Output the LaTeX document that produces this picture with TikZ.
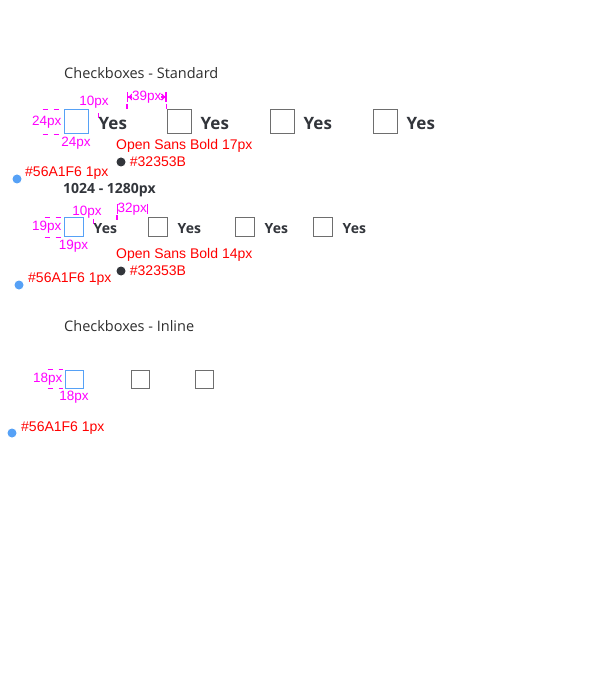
\documentclass[tikz,border=0pt]{standalone}
\usepackage{fontspec}
\setmainfont{Open Sans}
\newfontfamily\arialfont{Liberation Sans}
\usetikzlibrary{positioning, arrows.meta}
\definecolor{cbblue}{HTML}{56A1F6}
\definecolor{cbdark}{HTML}{32353B}
\definecolor{cbgray}{HTML}{6E6E6E}
\definecolor{cbhead}{HTML}{2E2E2E}
\definecolor{cbmag}{HTML}{FF00FF}
\definecolor{cbred}{HTML}{FF0000}

\tikzset{
  chk/.style={draw=cbgray, line width=1pt, inner sep=0pt, minimum size=#1},
  chkon/.style={chk=#1, draw=cbblue},
  yes/.style={inner sep=0pt, text=cbdark, font=\bfseries\fontsize{#1}{#1}\selectfont},
  head/.style={inner sep=0pt, anchor=west, text=cbhead, font=\fontsize{14.5}{16}\selectfont},
  dimtxt/.style={inner sep=0pt, text=cbmag, font=\arialfont\fontsize{13.5}{15}\selectfont},
  dimln/.style={cbmag, line width=1.5pt, dash pattern=on 5pt off 6pt},
  note/.style={inner sep=0pt, anchor=west, text=cbred, font=\arialfont\fontsize{14}{16}\selectfont},
  swatch/.style={circle, fill=#1, inner sep=0pt, minimum size=9pt},
}

\begin{document}
\begin{tikzpicture}[x=1pt, y=-1pt]
        \useasboundingbox (0,0) rectangle (600,700);
        % standard, 17px
        \node[head] (hstd) at (64,73) {Checkboxes - Standard};
        \node[chkon=24pt] (a1) at (76,122) {};
        \node[chk=24pt] (a2) at (179,122) {};
        \node[chk=24pt] (a3) at (282,122) {};
        \node[chk=24pt] (a4) at (385,122) {};
        \node[yes=17, right=10pt of a1, yshift=-2pt] (ya1) {Yes};
        \node[yes=17, right=9pt of a2, yshift=-2pt] (ya2) {Yes};
        \node[yes=17, right=9pt of a3, yshift=-2pt] (ya3) {Yes};
        \node[yes=17, right=9pt of a4, yshift=-2pt] (ya4) {Yes};
        \draw[dimln] ([xshift=-21pt]a1.north west) -- ([xshift=-2pt]a1.north west);
        \draw[dimln] ([xshift=-21pt]a1.south west) -- ([xshift=-2pt]a1.south west);
        \node[dimtxt, left=2pt of a1] (wa1) {24px};
        \node[dimtxt, below=2pt of a1] (ha1) {24px};
        \node[dimtxt] (ga1) at (94,102) {10px};
        \draw[cbmag, line width=1.2pt] (ya1.north west) -- ++(0,-5);
        \draw[cbmag, line width=1.2pt, {Bar[width=10pt]Straight Barb[length=3pt]}-{Straight Barb[length=3pt]Bar[width=10pt]}]
            (ya1.east |- 0,97) -- (a2.west |- 0,97) node[dimtxt, midway, fill=white] (sa1) {39px};
        \draw[dimln] (ya1.east |- 0,104) -- (ya1.east |- a1.north);
        \draw[dimln] (a2.west |- 0,104) -- (a2.north west);
        \node[note] (fa) at (116,146) {Open Sans Bold 17px};
        \node[swatch=cbdark] (ka) at (121,162) {};
        \node[note, right=4pt of ka] {\#32353B};
        \node[swatch=cbblue] (ba) at (17,179) {};
        \node[note] at (25,173) {\#56A1F6 1px};
        % standard, 14px
        \node[head, text=cbdark, font=\bfseries\fontsize{14}{16}\selectfont] (hmid) at (63,190) {1024 - 1280px};
        \node[chkon=19pt] (b1) at (73.5,227.5) {};
        \node[chk=19pt] (b2) at (157.5,227.5) {};
        \node[chk=19pt] (b3) at (244.5,227.5) {};
        \node[chk=19pt] (b4) at (322.5,227.5) {};
        \node[yes=14, right=10pt of b1, yshift=-1.5pt] (yb1) {Yes};
        \node[yes=14, right=10pt of b2, yshift=-1.5pt] (yb2) {Yes};
        \node[yes=14, right=10pt of b3, yshift=-1.5pt] (yb3) {Yes};
        \node[yes=14, right=10pt of b4, yshift=-1.5pt] (yb4) {Yes};
        \draw[dimln] ([xshift=-19pt]b1.north west) -- ([xshift=-2pt]b1.north west);
        \draw[dimln] ([xshift=-19pt]b1.south west) -- ([xshift=-2pt]b1.south west);
        \node[dimtxt, left=2pt of b1] (wb1) {19px};
        \node[dimtxt, below=2pt of b1] (hb1) {19px};
        \node[dimtxt] (gb1) at (87,212) {10px};
        \draw[cbmag, line width=1.2pt] (yb1.north west) -- ++(0,-5);
        \draw[cbmag, line width=1.2pt, {Bar[width=10pt]}-{Bar[width=10pt]}]
            (yb1.east |- 0,209) -- (b2.west |- 0,209) node[dimtxt, midway, fill=white] (sb1) {32px};
        \draw[dimln] (yb1.east |- 0,215) -- (yb1.east |- 0,225);
        \node[note] (fb) at (116,255) {Open Sans Bold 14px};
        \node[swatch=cbdark] (kb) at (121,271) {};
        \node[note, right=4pt of kb] {\#32353B};
        \node[swatch=cbblue] (bb) at (19,285) {};
        \node[note] at (28,279) {\#56A1F6 1px};
        % inline
        \node[head] (hinl) at (64,326) {Checkboxes - Inline};
        \node[chkon=18pt] (c1) at (74,379) {};
        \node[chk=18pt] (c2) at (140,379) {};
        \node[chk=18pt] (c3) at (204,379) {};
        \draw[dimln] ([xshift=-17pt]c1.north west) -- ([xshift=-2pt]c1.north west);
        \draw[dimln] ([xshift=-17pt]c1.south west) -- ([xshift=-2pt]c1.south west);
        \node[dimtxt, left=2pt of c1] (wc1) {18px};
        \node[dimtxt, below=2pt of c1] (hc1) {18px};
        \node[swatch=cbblue] (bc) at (12,433) {};
        \node[note] at (21,428) {\#56A1F6 1px};
\end{tikzpicture}
\end{document}
